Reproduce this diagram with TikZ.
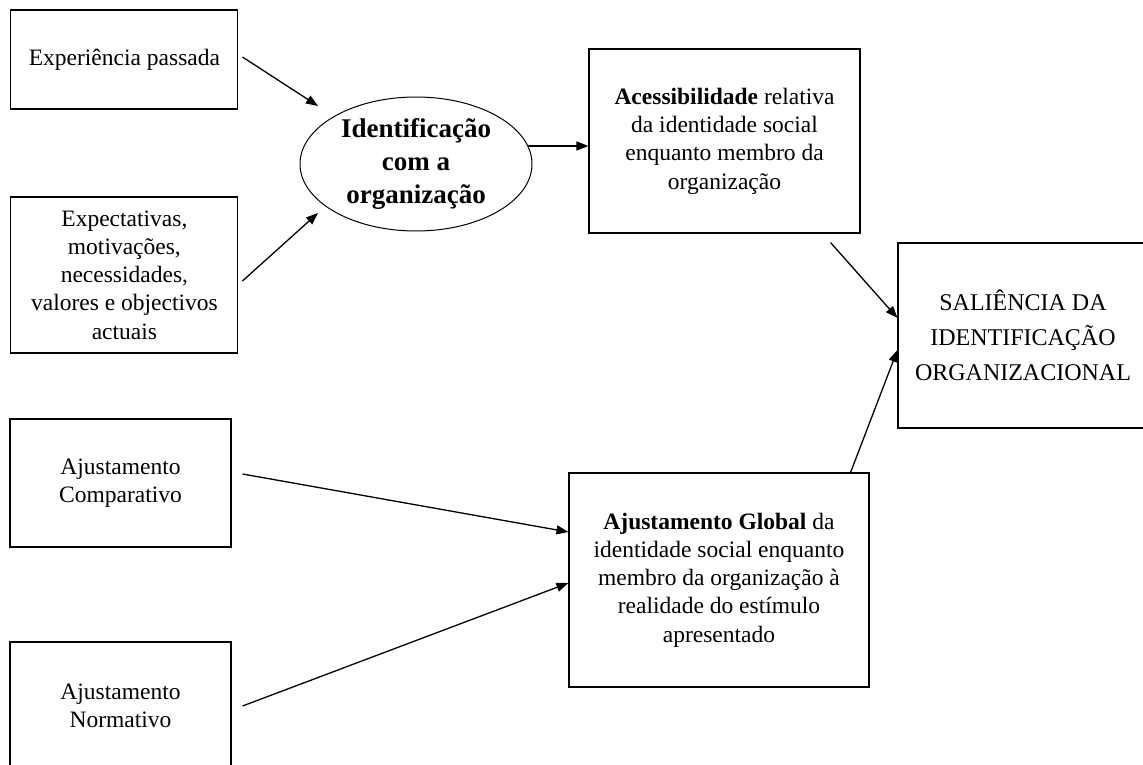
\documentclass[tikz,border=0pt]{standalone}
\usepackage{fontspec}
\setmainfont{Liberation Serif}
\usetikzlibrary{arrows.meta,calc,shapes.geometric}

\tikzset{
  box/.style={draw, line width=1.1pt, rectangle, inner sep=0pt, align=center,
    font=\fontsize{23.5}{28.3}\selectfont},
  oval/.style={draw, line width=1pt, ellipse, inner sep=0pt, align=center,
    font=\fontsize{27}{33}\selectfont\bfseries},
  arr/.style={line width=1.3pt, -{Triangle[length=12pt,width=9pt]}}
}

\begin{document}
\begin{tikzpicture}[x=1pt, y=-1pt]
  \useasboundingbox (0,0) rectangle (1143,765);

  % source factors on the left
  \node[box, minimum width=227pt, minimum height=99pt] (exp) at (124.4,59.5)
    {Experiência passada};
  \node[box, minimum width=227pt, minimum height=156pt] (expc) at (124.4,275)
    {Expectativas,\\ motivações,\\ necessidades,\\ valores e objectivos\\ actuais};
  \node[box, minimum width=221pt, minimum height=128pt] (comp) at (120.5,483)
    {Ajustamento\\ Comparativo};
  \node[box, minimum width=221pt, minimum height=128pt] (norm) at (120.5,706)
    {Ajustamento\\ Normativo};

  % central construct
  \node[oval, minimum width=232pt, minimum height=134pt] (ident) at (416,164)
    {Identificação\\ com a\\ organização};

  % intermediate processes
  \node[box, minimum width=271pt, minimum height=184pt] (aces) at (724.5,141)
    {\textbf{Acessibilidade} relativa\\ da identidade social\\ enquanto membro da\\ organização};
  \node[box, minimum width=300pt, minimum height=214pt] (glob) at (719,580)
    {\textbf{Ajustamento Global} da\\ identidade social enquanto\\ membro da organização à\\ realidade do estímulo\\ apresentado};

  % outcome
  \node[box, minimum width=250pt, minimum height=185pt,
    font=\fontsize{24}{35}\selectfont] (sal) at (1023,335.5)
    {SALIÊNCIA DA\\ IDENTIFICAÇÃO\\ ORGANIZACIONAL};

  % connectors
  \draw[arr] ($(exp.east)+(4,-2.5)$) -- ($(ident.center)+(-98,-58)$);
  \draw[arr] ($(expc.east)+(4,6)$) -- ($(ident.center)+(-98,49)$);
  \draw[arr] ($(ident.center)+(112,-18)$) -- ($(aces.west)+(0,5)$);
  \draw[arr] ($(aces.south east)+(-30,9)$) -- ($(sal.west)+(0,-17.5)$);
  \draw[arr] ($(glob.north east)+(-19,0)$) -- ($(sal.west)+(0,14.5)$);
  \draw[arr] ($(comp.east)+(11,-9)$) -- ($(glob.west)+(0,-48)$);
  \draw[arr] ($(norm.east)+(11,0)$) -- ($(glob.west)+(0,3)$);
\end{tikzpicture}
\end{document}
